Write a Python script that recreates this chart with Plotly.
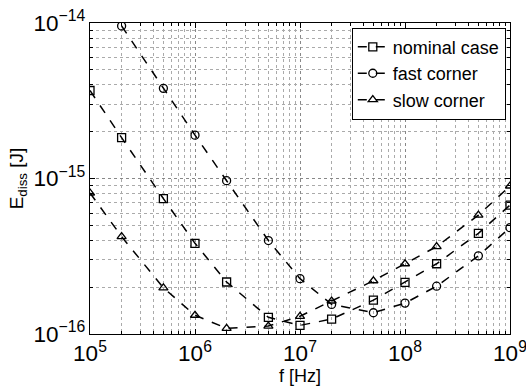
import plotly.graph_objects as go

freq = [1e5, 2e5, 5e5, 1e6, 2e6, 5e6, 1e7, 2e7, 5e7, 1e8, 2e8, 5e8, 1e9]
nominal = [3.68e-15, 1.83e-15, 7.43e-16, 3.83e-16, 2.16e-16, 1.28e-16, 1.136e-16,
           1.247e-16, 1.65e-16, 2.15e-16, 2.83e-16, 4.44e-16, 6.74e-16]
fast_f = freq[1:]
fast = [9.57e-15, 3.8e-15, 1.9e-15, 9.68e-16, 3.99e-16, 2.27e-16, 1.55e-16,
        1.37e-16, 1.58e-16, 2.03e-16, 3.18e-16, 4.83e-16]
slow = [8.07e-16, 4.23e-16, 1.98e-16, 1.32e-16, 1.087e-16, 1.125e-16, 1.30e-16,
        1.63e-16, 2.2e-16, 2.83e-16, 3.65e-16, 5.82e-16, 8.95e-16]

font = "Liberation Sans, Arial, sans-serif"
fig = go.Figure()
series = [
    ("nominal case", freq, nominal, "square-open"),
    ("fast corner", fast_f, fast, "circle-open"),
    ("slow corner", freq, slow, "triangle-up-open"),
]
for name, xs, ys, sym in series:
    fig.add_trace(go.Scatter(
        x=xs, y=ys, name=name, mode="lines+markers",
        line=dict(color="black", dash="dash", width=1.5),
        marker=dict(symbol=sym, size=8, color="black", line=dict(width=1.3, color="black")),
    ))

axis_common = dict(
    type="log", dtick=1, exponentformat="power", showline=True, linecolor="black",
    linewidth=1.2, mirror="allticks", ticks="inside", ticklen=5, tickcolor="black",
    showgrid=True, gridcolor="#888888", griddash="dot", gridwidth=1,
    minor=dict(showgrid=True, gridcolor="#aaaaaa", griddash="dot", ticks="inside",
               ticklen=3, tickcolor="black"),
    zeroline=False, tickfont=dict(size=18, color="black", family=font),
    ticklabeloverflow="allow", automargin=False,
)
fig.update_xaxes(range=[5, 9], title_text="f [Hz]", title_font=dict(size=18, color="black", family=font), title_standoff=8, **axis_common)
fig.update_yaxes(range=[-16, -14], title_text="E<sub>diss</sub> [J]", title_font=dict(size=19, color="black", family=font), title_standoff=4, **axis_common)

fig.update_layout(
    width=526, height=386,
    margin=dict(l=90, r=16, t=23, b=52),
    plot_bgcolor="white", paper_bgcolor="white",
    font=dict(family=font, color="black"),
    legend=dict(x=0.99, y=0.985, xanchor="right", yanchor="top",
                bgcolor="white", bordercolor="black", borderwidth=1,
                font=dict(size=18, family=font, color="black"),
                itemwidth=30, tracegroupgap=0),
    showlegend=True,
)
fig.write_html("out.html")
